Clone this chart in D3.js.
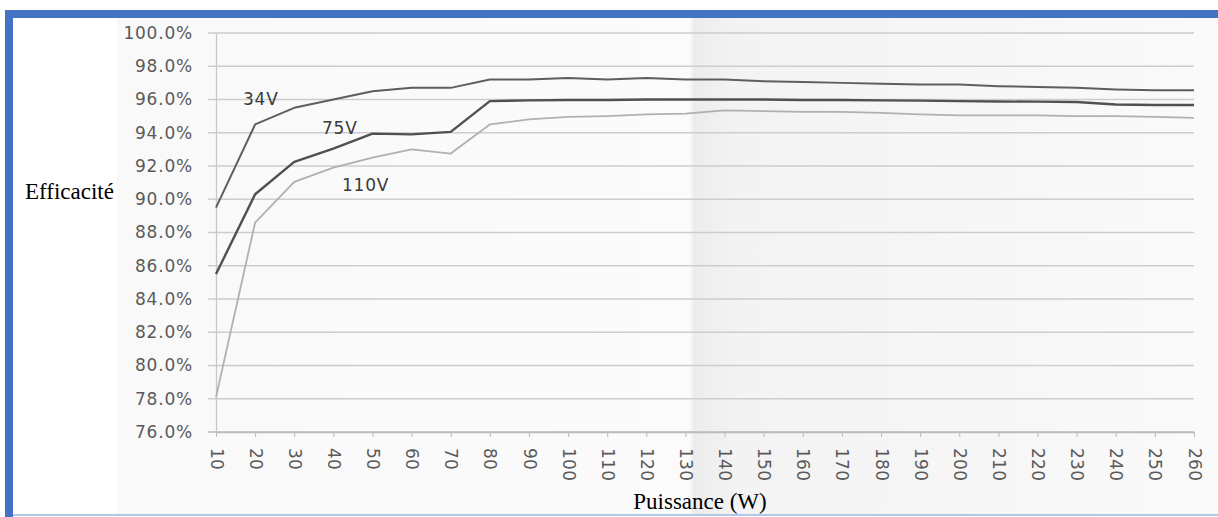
<!DOCTYPE html>
<html>
<head>
<meta charset="utf-8">
<script src="https://cdn.jsdelivr.net/npm/d3@7"></script>
<style>
  body { margin: 0; background: #fff; }
  svg { display: block; }
</style>
</head>
<body>
<svg id="chart" width="1218" height="517"></svg>
<script>
// puissance (W)
var puissance = [10, 20, 30, 40, 50, 60, 70, 80, 90, 100, 110, 120, 130, 140, 150, 160, 170, 180, 190, 200, 210, 220, 230, 240, 250, 260];
// efficacite (%) per input voltage
var v34 = [89.5, 94.5, 95.5, 96.0, 96.5, 96.7, 96.7, 97.2, 97.2, 97.3, 97.2, 97.3, 97.2, 97.2, 97.1, 97.05, 97.0, 96.95, 96.9, 96.9, 96.8, 96.75, 96.7, 96.6, 96.55, 96.55];
var v75 = [85.5, 90.3, 92.25, 93.05, 93.95, 93.9, 94.05, 95.9, 95.95, 95.97, 95.97, 96.0, 96.0, 96.0, 96.0, 95.97, 95.97, 95.95, 95.93, 95.9, 95.88, 95.87, 95.85, 95.7, 95.67, 95.67];
var v110 = [78.1, 88.6, 91.05, 91.9, 92.5, 93.0, 92.75, 94.5, 94.8, 94.95, 95.0, 95.1, 95.15, 95.35, 95.3, 95.25, 95.25, 95.2, 95.1, 95.05, 95.05, 95.05, 95.0, 95.0, 94.95, 94.9];
var yTicks = [76, 78, 80, 82, 84, 86, 88, 90, 92, 94, 96, 98, 100];
var seriesNames = ["34V", "75V", "110V"];

var svg = d3.select("#chart");

// scanned paper background
var defs = svg.append("defs");
var grad = defs.append("linearGradient").attr("id", "paper").attr("x1", "0").attr("x2", "1");
grad.append("stop").attr("offset", "0").attr("stop-color", "#f9f9f9");
grad.append("stop").attr("offset", "0.52").attr("stop-color", "#fbfbfb");
grad.append("stop").attr("offset", "0.524").attr("stop-color", "#ececec");
grad.append("stop").attr("offset", "0.56").attr("stop-color", "#f3f3f3");
grad.append("stop").attr("offset", "1").attr("stop-color", "#fafafa");

svg.append("rect")
    .attr("x", 117).attr("y", 18)
    .attr("width", 1218 - 117).attr("height", 497)
    .attr("fill", "url(#paper)");

var x = d3.scaleLinear().domain([10, 260]).range([216, 1194]);
var y = d3.scaleLinear().domain([76, 100]).range([432, 33]);

var tickFont = "'DejaVu Sans', Verdana, sans-serif";

// gridlines
svg.append("g")
    .selectAll("line")
    .data(yTicks)
    .enter()
    .append("line")
    .attr("x1", 208)
    .attr("x2", 1194)
    .attr("y1", function (d) { return y(d); })
    .attr("y2", function (d) { return y(d); })
    .attr("stroke", function (d) { return d == 76 ? "#bbb" : "#cdcdcd"; })
    .attr("stroke-width", 1.3);

// y axis
var yAxis = d3.axisLeft(y)
    .tickValues(yTicks)
    .tickSize(0)
    .tickPadding(23)
    .tickFormat(function (d) { return d.toFixed(1) + "%"; });

var gy = svg.append("g")
    .attr("transform", "translate(216,0)")
    .call(yAxis);
gy.select(".domain").attr("stroke", "#c8c8c8").attr("stroke-width", 1.3);
gy.selectAll("text")
    .style("font-family", tickFont)
    .style("font-size", "17px")
    .style("letter-spacing", "0.8px")
    .attr("fill", "#5a5a5a");

// x axis
var xAxis = d3.axisBottom(x)
    .tickValues(puissance)
    .tickSize(5)
    .tickSizeOuter(0)
    .tickPadding(6);

var gx = svg.append("g")
    .attr("transform", "translate(0,432)")
    .call(xAxis);
gx.select(".domain").attr("stroke", "#bbb").attr("stroke-width", 1.3);
gx.selectAll(".tick line").attr("stroke", "#bbb");
gx.selectAll("text")
    .style("font-family", tickFont)
    .style("font-size", "17px")
    .style("letter-spacing", "0.3px")
    .attr("fill", "#5a5a5a")
    .attr("y", 0)
    .attr("dy", "0.35em")
    .attr("transform", "translate(0,16) rotate(90)")
    .attr("text-anchor", "start");

// series lines
var line = d3.line()
    .x(function (d, i) { return x(puissance[i]); })
    .y(function (d) { return y(d); });

var allSeries = [v34, v75, v110];
var colors = ["#5e5e5e", "#505050", "#b0b0b0"];
var widths = [2, 2.4, 1.8];

for (let i = 0; i < allSeries.length; i++) {
    svg.append("path")
        .datum(allSeries[i])
        .attr("fill", "none")
        .attr("stroke", colors[i])
        .attr("stroke-width", widths[i])
        .attr("stroke-linejoin", "round")
        .attr("d", line);
}

// series labels
var labelPos = [[16.9, 95.67], [37.1, 93.93], [42.2, 90.5]];
svg.selectAll(".serlabel")
    .data(seriesNames)
    .enter()
    .append("text")
    .attr("class", "serlabel")
    .attr("x", function (d, i) { return x(labelPos[i][0]); })
    .attr("y", function (d, i) { return y(labelPos[i][1]); })
    .style("font-family", tickFont)
    .style("font-size", "17px")
    .style("letter-spacing", "0.8px")
    .attr("fill", "#3a3a3a")
    .text(function (d) { return d; });

// axis titles
svg.append("text")
    .attr("x", 25)
    .attr("y", 199)
    .style("font-family", "'Liberation Serif', 'Times New Roman', serif")
    .style("font-size", "23px")
    .attr("fill", "#000")
    .text("Efficacité");

svg.append("text")
    .attr("x", 700)
    .attr("y", 509)
    .attr("text-anchor", "middle")
    .style("font-family", "'Liberation Serif', 'Times New Roman', serif")
    .style("font-size", "23px")
    .attr("fill", "#000")
    .text("Puissance (W)");

// blue frame
svg.append("rect").attr("x", 5).attr("y", 10).attr("width", 1213).attr("height", 8).attr("fill", "#4472c4");
svg.append("rect").attr("x", 5).attr("y", 10).attr("width", 8).attr("height", 507).attr("fill", "#4472c4");
svg.append("rect").attr("x", 13).attr("y", 514).attr("width", 1205).attr("height", 2).attr("fill", "#b4c7e7");
</script>
</body>
</html>
